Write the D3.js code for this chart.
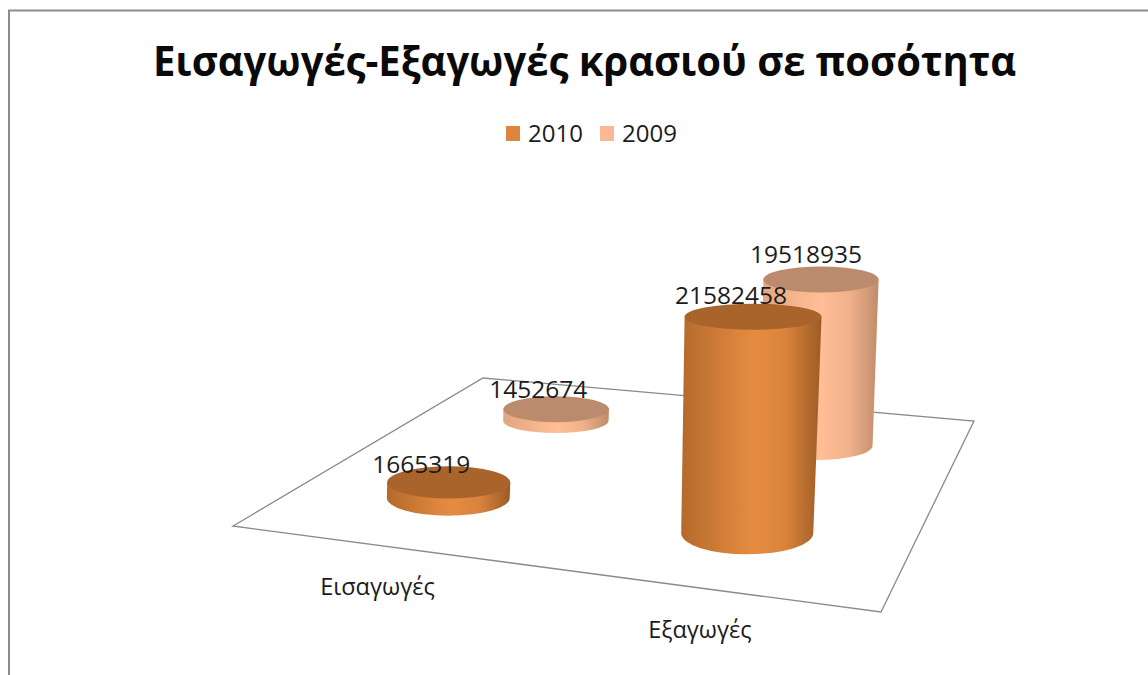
<!DOCTYPE html>
<html>
<head>
<meta charset="utf-8">
<title>Wine chart</title>
<script src="https://cdn.jsdelivr.net/npm/d3@7"></script>
<style>
  html, body { margin: 0; padding: 0; background: #fff; }
  text { font-family: "Open Sans", "Noto Sans", sans-serif; fill: #1c1c1c; }
</style>
</head>
<body>
<svg id="chart" width="1148" height="675"></svg>
<script>
var titleText = "Εισαγωγές-Εξαγωγές κρασιού σε ποσότητα";
var categories = ["Εισαγωγές", "Εξαγωγές"];
var seriesNames = ["2010", "2009"];
var values2010 = [1665319, 21582458];
var values2009 = [1452674, 19518935];

var palette = {
  "2010": {legend: "#dd853f", top: "#a8642b", stops: ["#b46a2c", "#d27e38", "#e68c41", "#d9833c", "#9c5c26"]},
  "2009": {legend: "#fbb894", top: "#bc8a6c", stops: ["#e0a581", "#f5b58d", "#ffbe96", "#f0b18b", "#c08c6c"]}
};

var svg = d3.select("#chart");
var defs = svg.append("defs");

// floor corners, front left / front right / back right / back left
var floor = [[233, 526], [881, 612], [974, 421], [483, 378]];

// unit square -> floor quad
var dx1 = floor[1][0] - floor[2][0], dx2 = floor[3][0] - floor[2][0],
    dy1 = floor[1][1] - floor[2][1], dy2 = floor[3][1] - floor[2][1],
    sx = floor[0][0] - floor[1][0] + floor[2][0] - floor[3][0],
    sy = floor[0][1] - floor[1][1] + floor[2][1] - floor[3][1],
    det = dx1 * dy2 - dx2 * dy1,
    g = (sx * dy2 - dx2 * sy) / det,
    h = (dx1 * sy - sx * dy1) / det,
    a = floor[1][0] - floor[0][0] + g * floor[1][0],
    b = floor[3][0] - floor[0][0] + h * floor[3][0],
    d = floor[1][1] - floor[0][1] + g * floor[1][1],
    e = floor[3][1] - floor[0][1] + h * floor[3][1];

function depth(u, v) { return 1 + g * u + h * v; }
function project(u, v) {
  var w = depth(u, v);
  return [(a * u + b * v + floor[0][0]) / w, (d * u + e * v + floor[0][1]) / w];
}

var x = d3.scaleBand().domain(categories).range([0, 1]);
var z = d3.scaleBand().domain(seriesNames).range([0, 1]);
var y = d3.scaleLinear().domain([0, 25000000]).range([0, 245]);

// value label offset from the cylinder top, by series then category
var labelShift = {
  "2010": [[-27.5, -9.5], [-22, -13]],
  "2009": [[-18, -11.5], [-15, -17]]
};

// one record per cylinder, far ones first so the near ones cover them
var bars = [];
seriesNames.forEach(function(s, si) {
  var vals = si === 0 ? values2010 : values2009;
  categories.forEach(function(c, ci) {
    bars.push({series: s, category: c, value: vals[ci], shift: labelShift[s][ci]});
  });
});
bars.forEach(function(b) {
  var u = x(b.category) + x.bandwidth() / 2,
      v = z(b.series) + z.bandwidth() / 2,
      w = depth(u, v),
      base = project(u, v),
      ht = y(b.value) / w;
  b.depth = w;
  b.cx = base[0] + 3.5;
  b.cy = base[1] + 2;
  b.rx = 64.5 / w;
  b.ry = 21 * Math.pow(0.977 / w, 2.4);
  b.tx = b.cx + ht * 0.027;
  b.ty = b.cy - ht;
  b.trx = b.rx * (1 + ht * 0.00017);
  b.try = Math.max(13, b.ry - ht * 0.1);
});
bars.sort(function(p, q) { return q.depth - p.depth; });

// frame
svg.append("path")
  .attr("d", "M9,675V10.5H1148")
  .attr("fill", "none")
  .attr("stroke", "#8c8c8c")
  .attr("stroke-width", 2);

svg.append("text")
  .attr("x", 153)
  .attr("y", 76)
  .attr("font-size", 42)
  .attr("font-weight", 700)
  .attr("textLength", 863)
  .attr("lengthAdjust", "spacingAndGlyphs")
  .style("fill", "#0a0a0a")
  .text(titleText);

// legend
var legendX = d3.scaleOrdinal().domain(seriesNames).range([506, 600]);
var legend = svg.selectAll(".legend").data(seriesNames).enter().append("g")
  .attr("class", "legend")
  .attr("transform", function(s) { return "translate(" + legendX(s) + ",126)"; });
legend.append("rect")
  .attr("width", 14)
  .attr("height", 15)
  .attr("fill", function(s) { return palette[s].legend; });
legend.append("text")
  .attr("x", 22)
  .attr("y", 16)
  .attr("font-size", 24)
  .text(function(s) { return s; });

// floor
svg.append("polygon")
  .attr("points", floor.join(" "))
  .attr("fill", "#fff")
  .attr("stroke", "#8a8a8a")
  .attr("stroke-width", 1.3);

// side shading
var grads = defs.selectAll("linearGradient").data(seriesNames).enter().append("linearGradient")
  .attr("id", function(s) { return "side" + s; })
  .attr("x1", 0).attr("x2", 1).attr("y1", 0).attr("y2", 0);
grads.selectAll("stop")
  .data(function(s) { return palette[s].stops; })
  .enter().append("stop")
  .attr("offset", function(c, i) { return [0, 0.3, 0.52, 0.75, 1][i]; })
  .attr("stop-color", function(c) { return c; });

var cyl = svg.selectAll(".cylinder").data(bars).enter().append("g").attr("class", "cylinder");

cyl.append("path")
  .attr("fill", function(b) { return "url(#side" + b.series + ")"; })
  .attr("d", function(b) {
    return "M" + (b.cx - b.rx) + "," + b.cy +
      "L" + (b.tx - b.trx) + "," + b.ty +
      "L" + (b.tx + b.trx) + "," + b.ty +
      "L" + (b.cx + b.rx) + "," + b.cy +
      "A" + b.rx + "," + b.ry + " 0 0 1 " + (b.cx - b.rx) + "," + b.cy + "Z";
  });

cyl.append("ellipse")
  .attr("cx", function(b) { return b.tx; })
  .attr("cy", function(b) { return b.ty; })
  .attr("rx", function(b) { return b.trx; })
  .attr("ry", function(b) { return b.try; })
  .attr("fill", function(b) { return palette[b.series].top; });

// value labels go over all the cylinders
svg.selectAll(".value").data(bars).enter().append("text")
  .attr("class", "value")
  .attr("x", function(b) { return b.tx + b.shift[0]; })
  .attr("y", function(b) { return b.ty + b.shift[1]; })
  .attr("text-anchor", "middle")
  .attr("font-size", 24.5)
  .text(function(b) { return b.value; });

// category labels under the front edge of the floor
svg.selectAll(".cat").data(categories).enter().append("text")
  .attr("class", "cat")
  .attr("x", function(c) { return project(x(c) + x.bandwidth() / 2, 0)[0] + 1; })
  .attr("y", function(c) { return project(x(c) + x.bandwidth() / 2, 0)[1] + 50; })
  .attr("text-anchor", "middle")
  .attr("font-size", 23.5)
  .text(function(c) { return c; });
</script>
</body>
</html>
